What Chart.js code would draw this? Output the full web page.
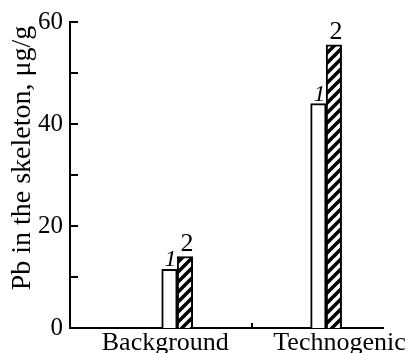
<!DOCTYPE html>
<html>
<head>
<meta charset="utf-8">
<script src="https://cdn.jsdelivr.net/npm/chart.js@4.4.0/dist/chart.umd.min.js"></script>
<style>
  html, body { margin: 0; padding: 0; background: #fff; }
  #wrap { width: 409px; height: 353px; }
</style>
</head>
<body>
<div id="wrap"><canvas id="chart" width="409" height="353"></canvas></div>
<script>
// Data
const categories = ['Background', 'Technogenic'];
const categoryPos = [1, 2];          // bar group centres on the x scale
const labelPos = [0.92, 2.09];       // where the category names sit
const boundaryTicks = [1.5];         // little tick between the groups
const series1 = [11.5, 44];
const series2 = [14, 55.5];
const seriesNames = ['1', '2'];
const yTickValues = [0, 10, 20, 30, 40, 50, 60];
const yTickLabels = ['0', '', '20', '', '40', '', '60'];
const yTitle = 'Pb in the skeleton, \u03bcg/g';

const serif = '"Liberation Serif", "Times New Roman", serif';

// Hatch "/" untuk seri 2
function makeHatch() {
    const c = document.createElement('canvas');
    c.width = 10; c.height = 10;
    const g = c.getContext('2d');
    g.fillStyle = '#fff';
    g.fillRect(0, 0, 10, 10);
    g.strokeStyle = '#000';
    g.lineWidth = 3.5;
    g.beginPath();
    g.moveTo(-5, 5); g.lineTo(5, -5);
    g.moveTo(0, 10); g.lineTo(10, 0);
    g.moveTo(5, 15); g.lineTo(15, 5);
    g.stroke();
    return document.getElementById('chart').getContext('2d').createPattern(c, 'repeat');
}

const toPoints = vals => vals.map((v, i) => ({ x: categoryPos[i], y: v }));

// Tick ke dalam, label seri, judul sumbu y
const decor = {
    id: 'decor',
    afterDatasetsDraw(chart) {
        const { ctx, scales: { x, y }, chartArea } = chart;
        ctx.save();
        ctx.strokeStyle = '#000';
        ctx.lineWidth = 2;
        ctx.beginPath();
        yTickValues.forEach(v => {
            if (v === 0) return;
            const py = Math.round(y.getPixelForValue(v));
            ctx.moveTo(chartArea.left, py);
            ctx.lineTo(chartArea.left + 8, py);
        });
        boundaryTicks.forEach(v => {
            const px = Math.round(x.getPixelForValue(v));
            ctx.moveTo(px, chartArea.bottom);
            ctx.lineTo(px, chartArea.bottom - 5);
        });
        ctx.stroke();

        ctx.fillStyle = '#000';
        ctx.textAlign = 'center';
        ctx.textBaseline = 'alphabetic';
        chart.data.datasets.forEach((ds, di) => {
            ctx.font = (di === 0 ? 'italic 24px ' : '26px ') + serif;
            chart.getDatasetMeta(di).data.forEach(bar => {
                if (di === 0) ctx.fillText(seriesNames[di], bar.x + 1, bar.y - 3);
                else ctx.fillText(seriesNames[di], bar.x + 2, bar.y - 6);
            });
        });

        ctx.translate(23, 158);
        ctx.rotate(-Math.PI / 2);
        ctx.font = '28px ' + serif;
        ctx.textBaseline = 'middle';
        ctx.fillText(yTitle, 0, 0);
        ctx.restore();
    }
};

new Chart(document.getElementById('chart'), {
    type: 'bar',
    data: {
        datasets: [{
            label: seriesNames[0],
            data: toPoints(series1),
            backgroundColor: '#fff',
            borderColor: '#000',
            borderWidth: 2,
            borderSkipped: 'bottom'
        }, {
            label: seriesNames[1],
            data: toPoints(series2),
            backgroundColor: makeHatch(),
            borderColor: '#000',
            borderWidth: 2,
            borderSkipped: 'bottom'
        }]
    },
    options: {
        responsive: false,
        animation: false,
        barThickness: 15.5,
        layout: { padding: { top: 19, right: 23, left: 0, bottom: 0 } },
        plugins: { legend: { display: false }, tooltip: { enabled: false } },
        scales: {
            x: {
                type: 'linear',
                offset: false,
                min: 0.28,
                max: 2.387,
                afterBuildTicks: s => { s.ticks = labelPos.map(v => ({ value: v })); },
                afterFit: s => { s.height = 25; },
                grid: { display: false, drawTicks: false, offset: false },
                border: { display: true, color: '#000', width: 2 },
                ticks: {
                    callback: (v, i) => categories[i],
                    font: { family: serif, size: 26 },
                    color: '#000',
                    padding: 0,
                    maxRotation: 0,
                    autoSkip: false
                }
            },
            y: {
                min: 0,
                max: 60,
                afterBuildTicks: s => { s.ticks = yTickValues.map(v => ({ value: v })); },
                afterFit: s => { s.width = 70; },
                grid: { display: false, drawTicks: false },
                border: { display: true, color: '#000', width: 2 },
                ticks: {
                    callback: (v, i) => yTickLabels[i],
                    font: { family: serif, size: 25 },
                    color: '#000',
                    padding: 7,
                    autoSkip: false
                }
            }
        }
    },
    plugins: [decor]
});
</script>
</body>
</html>
